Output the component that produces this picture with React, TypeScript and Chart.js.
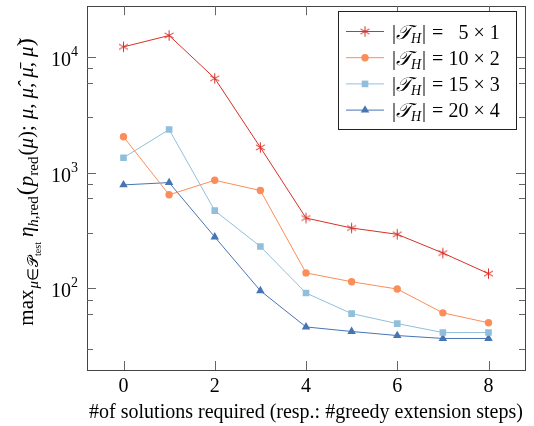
import React, { useEffect, useRef } from 'react';
import { Chart, registerables } from 'chart.js';

Chart.register(...registerables);

// ---------- data ----------
const steps = [0, 1, 2, 3, 4, 5, 6, 7, 8];
const series5x1 = [12200, 15300, 6520, 1650, 405, 332, 293, 202, 134];
const series10x2 = [2040, 643, 859, 700, 136, 114, 98.6, 61.4, 50.4];
const series15x3 = [1345, 2355, 469, 230, 91.1, 60.5, 49.6, 41.5, 41.5];
const series20x4 = [783, 820, 278, 95.3, 46.4, 42.4, 39.1, 36.9, 36.9];
const legendFirst = ['5', '10', '15', '20'];
const legendSecond = ['1', '2', '3', '4'];
const xTickValues = [0, 2, 4, 6, 8];
const xTitle = '#of solutions required (resp.: #greedy extension steps)';

const COLORS = ['#d73027', '#fc8d59', '#91bfdb', '#4575b4'];
const SERIF = "'Liberation Serif', 'Times New Roman', serif";
const fnt = (s: number, it = false) => `${it ? 'italic ' : ''}${s}px ${SERIF}`;
const FS = 20;

type Seg = { t: string; s: number; it?: boolean; dy?: number; gap?: number };

function segsWidth(ctx: CanvasRenderingContext2D, segs: Seg[]) {
  let w = 0;
  for (const g of segs) {
    ctx.font = fnt(g.s, g.it);
    w += ctx.measureText(g.t).width + (g.gap || 0);
  }
  return w;
}
function drawSegs(ctx: CanvasRenderingContext2D, segs: Seg[], x: number, y: number) {
  let cx = x;
  for (const g of segs) {
    ctx.font = fnt(g.s, g.it);
    ctx.fillText(g.t, cx, y + (g.dy || 0));
    cx += ctx.measureText(g.t).width + (g.gap || 0);
  }
  return cx;
}

function makeAsterisk(color: string, r: number) {
  const size = Math.ceil(r * 2 + 2);
  const c = document.createElement('canvas');
  c.width = size;
  c.height = size;
  const g = c.getContext('2d')!;
  g.strokeStyle = color;
  g.lineWidth = 1;
  const cx = size / 2;
  const cy = size / 2;
  for (const a of [90, 210, 330]) {
    const rad = (a * Math.PI) / 180;
    g.beginPath();
    g.moveTo(cx + Math.cos(rad) * r, cy - Math.sin(rad) * r);
    g.lineTo(cx - Math.cos(rad) * r, cy + Math.sin(rad) * r);
    g.stroke();
  }
  return c;
}

function drawMarker(ctx: CanvasRenderingContext2D, style: any, r: number, color: string, x: number, y: number) {
  ctx.fillStyle = color;
  if (typeof style !== 'string') {
    ctx.drawImage(style, x - style.width / 2, y - style.height / 2);
    return;
  }
  ctx.beginPath();
  if (style === 'circle') {
    ctx.arc(x, y, r, 0, Math.PI * 2);
  } else if (style === 'rect') {
    const s = Math.SQRT1_2 * r;
    ctx.rect(x - s, y - s, 2 * s, 2 * s);
  } else if (style === 'triangle') {
    for (let k = 0; k < 3; k++) {
      const a = (k * 2 * Math.PI) / 3;
      const px = x + Math.sin(a) * r;
      const py = y - Math.cos(a) * r;
      if (k === 0) ctx.moveTo(px, py);
      else ctx.lineTo(px, py);
    }
    ctx.closePath();
  }
  ctx.fill();
}

const SUB = 14;
const TF = 21;
const TS = 15;
const yTitleSegs: Seg[] = [
  { t: 'max', s: TF, gap: 1 },
  { t: 'μ', s: TS, it: true, dy: 5 },
  { t: '∈', s: TS, dy: 5, gap: 1 },
  { t: '𝒫', s: TS, dy: 5 },
  { t: 'test', s: 10, dy: 8, gap: 5 },
  { t: 'η', s: TF, it: true },
  { t: 'h', s: TS, it: true, dy: 5 },
  { t: ',red', s: TS, dy: 5, gap: 1 },
  { t: '(', s: 24, gap: 1 },
  { t: 'p', s: TF, it: true },
  { t: 'red', s: TS, dy: 5, gap: 1 },
  { t: '(', s: TF },
  { t: 'μ', s: TF, it: true },
  { t: ');', s: TF, gap: 6 },
  { t: 'μ', s: TF, it: true },
  { t: ',', s: TF, gap: 5 },
  { t: 'μ\u0302', s: TF, it: true },
  { t: ',', s: TF, gap: 5 },
  { t: 'μ\u0304', s: TF, it: true },
  { t: ',', s: TF, gap: 5 },
  { t: 'μ\u0303', s: TF, it: true },
  { t: ')', s: 24 },
];

const decorPlugin = {
  id: 'decor',
  beforeDatasetsDraw(chart: any) {
    const ctx: CanvasRenderingContext2D = chart.ctx;
    const { left, right, top, bottom } = chart.chartArea;
    const xs = chart.scales.x;
    const ys = chart.scales.y;
    ctx.save();
    ctx.strokeStyle = '#444';
    ctx.lineWidth = 1;
    ctx.strokeRect(Math.round(left) + 0.5, Math.round(top) + 0.5, Math.round(right - left), Math.round(bottom - top));
    ctx.strokeStyle = '#666';
    for (const t of xs.ticks) {
      const px = Math.round(xs.getPixelForValue(t.value)) + 0.5;
      ctx.beginPath();
      ctx.moveTo(px, bottom);
      ctx.lineTo(px, bottom - 9);
      ctx.moveTo(px, top);
      ctx.lineTo(px, top + 9);
      ctx.stroke();
    }
    for (const t of ys.ticks) {
      const py = Math.round(ys.getPixelForValue(t.value)) + 0.5;
      const len = t.major ? 9 : 6;
      ctx.beginPath();
      ctx.moveTo(left, py);
      ctx.lineTo(left + len, py);
      ctx.moveTo(right, py);
      ctx.lineTo(right - len, py);
      ctx.stroke();
    }
    ctx.fillStyle = '#000';
    ctx.textBaseline = 'alphabetic';
    ctx.textAlign = 'center';
    ctx.font = fnt(FS);
    for (const t of xs.ticks) {
      const px = xs.getPixelForValue(t.value);
      ctx.fillText(String(t.value), px, bottom + 22);
    }
    ctx.fillText(xTitle, (left + right) / 2, bottom + 48);
    for (const t of ys.ticks) {
      if (!t.major) continue;
      const py = ys.getPixelForValue(t.value);
      const exp = String(Math.round(Math.log10(t.value)));
      ctx.textAlign = 'right';
      ctx.font = fnt(SUB);
      const ew = ctx.measureText(exp).width;
      ctx.fillText(exp, left - 9, py - 1);
      ctx.font = fnt(FS);
      ctx.fillText('10', left - 9 - ew, py + 9);
    }
    ctx.textAlign = 'left';
    const w = segsWidth(ctx, yTitleSegs);
    ctx.translate(33, 182);
    ctx.rotate(-Math.PI / 2);
    drawSegs(ctx, yTitleSegs, -w / 2, 0);
    ctx.restore();
  },
  afterDraw(chart: any) {
    const ctx: CanvasRenderingContext2D = chart.ctx;
    ctx.save();
    const bx = 338.5, by = 11.5, bw = 178, bh = 118;
    ctx.fillStyle = '#fff';
    ctx.fillRect(bx, by, bw, bh);
    ctx.strokeStyle = '#222';
    ctx.lineWidth = 1;
    ctx.strokeRect(bx, by, bw, bh);
    const datasets = chart.data.datasets;
    ctx.textBaseline = 'alphabetic';
    ctx.font = fnt(FS);
    const numW = ctx.measureText('10').width;
    for (let i = 0; i < datasets.length; i++) {
      const ds = datasets[i];
      const cy = 31.5 + i * 26.2;
      ctx.strokeStyle = ds.borderColor;
      ctx.lineWidth = 1;
      ctx.beginPath();
      ctx.moveTo(346, cy);
      ctx.lineTo(384, cy);
      ctx.stroke();
      drawMarker(ctx, ds.pointStyle, ds.pointRadius, ds.borderColor, 365, cy);
      ctx.fillStyle = '#000';
      const segs: Seg[] = [
        { t: '|', s: FS },
        { t: '𝒯', s: FS, it: true },
        { t: 'H', s: SUB, it: true, dy: 4, gap: 1 },
        { t: '|', s: FS, gap: 1 },
        { t: ' = ', s: FS },
      ];
      const endX = drawSegs(ctx, segs, 392, cy + 7);
      ctx.font = fnt(FS);
      ctx.textAlign = 'right';
      ctx.fillText(legendFirst[i], endX + numW, cy + 7);
      ctx.textAlign = 'left';
      ctx.fillText(' × ' + legendSecond[i], endX + numW, cy + 7);
    }
    ctx.restore();
  },
};

export default function App() {
  const ref = useRef<HTMLCanvasElement>(null);
  useEffect(() => {
    const canvas = ref.current!;
    const allSeries = [series5x1, series10x2, series15x3, series20x4];
    const styles: any[] = [makeAsterisk(COLORS[0], 5.2), 'circle', 'rect', 'triangle'];
    const radii = [5.2, 3.7, 4.7, 4.9];
    const chart = new Chart(canvas, {
      type: 'line',
      data: {
        datasets: allSeries.map((vals, i) => ({
          label: `${legendFirst[i]}x${legendSecond[i]}`,
          data: steps.map((x, j) => ({ x, y: vals[j] })),
          borderColor: COLORS[i],
          backgroundColor: COLORS[i],
          pointBackgroundColor: COLORS[i],
          pointBorderColor: COLORS[i],
          borderWidth: 1,
          pointStyle: styles[i],
          pointRadius: radii[i],
          pointBorderWidth: i === 0 ? 1 : 0,
          tension: 0,
          fill: false,
        })),
      },
      options: {
        responsive: false,
        animation: false,
        events: [],
        layout: { padding: { left: 87, right: 9, top: 4, bottom: 56 } },
        plugins: { legend: { display: false }, tooltip: { enabled: false }, title: { display: false } },
        scales: {
          x: {
            type: 'linear',
            display: false,
            min: -0.8,
            max: 8.8,
            afterBuildTicks: (s: any) => {
              s.ticks = xTickValues.map((v) => ({ value: v }));
            },
          },
          y: {
            type: 'logarithmic',
            display: false,
            min: 19.7,
            max: 27400,
            afterBuildTicks: (s: any) => {
              const t: any[] = [];
              for (let k = 1; k <= 4; k++) {
                for (let d = 1; d <= 9; d++) {
                  const v = d * Math.pow(10, k);
                  if (v >= s.min && v <= s.max) t.push({ value: v, major: d === 1 });
                }
              }
              s.ticks = t;
            },
          },
        },
      } as any,
      plugins: [decorPlugin],
    });
    return () => chart.destroy();
  }, []);
  return (
    <div style={{ position: 'fixed', left: 0, top: 0, width: 534, height: 426, background: '#fff' }}>
      <canvas ref={ref} width={534} height={426} />
    </div>
  );
}
